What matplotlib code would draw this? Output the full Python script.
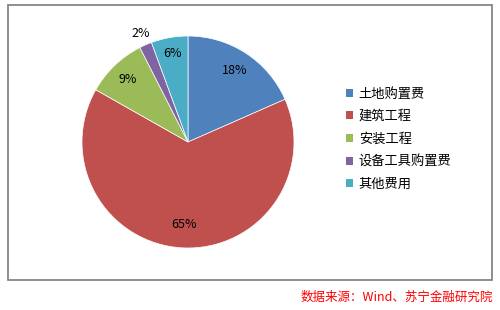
import numpy as np
import matplotlib
matplotlib.use("Agg")
import matplotlib.pyplot as plt
from matplotlib.patches import Rectangle

plt.rcParams['font.family'] = ['Noto Sans CJK SC', 'DejaVu Sans']

# cost structure shares (%)
categories = ['土地购置费', '建筑工程', '安装工程', '设备工具购置费', '其他费用']
shares = [18.4, 64.8, 9.3, 1.9, 5.6]
colors = ['#4F81BD', '#C0504D', '#9BBB59', '#8064A2', '#4BACC6']
label_dist = [0.81, 0.78, 0.82, 1.12, 0.85]
source = '数据来源：Wind、苏宁金融研究院'

W, H = 500, 310
fig = plt.figure(figsize=(W / 100, H / 100), dpi=100)

# outer frame
fig.patches.append(Rectangle((8 / W, 1 - 280 / H), 484 / W, 275 / H,
                             transform=fig.transFigure, fill=False,
                             edgecolor='#868686', linewidth=1.3))

cx, cy, r = 188, 142, 106
ax = fig.add_axes([(cx - r) / W, 1 - (cy + r) / H, 2 * r / W, 2 * r / H])
wedges, _ = ax.pie(shares, colors=colors, startangle=90, counterclock=False,
                   wedgeprops=dict(edgecolor='white', linewidth=0.5))
ax.set_xlim(-1, 1)
ax.set_ylim(-1, 1)
ax.set_aspect('equal')

for w, v, d in zip(wedges, shares, label_dist):
    mid = np.deg2rad((w.theta1 + w.theta2) / 2)
    ax.text(d * np.cos(mid), d * np.sin(mid), '%.0f%%' % v,
            ha='center', va='center', fontsize=9, color='black')

leg = fig.legend(wedges, categories, loc='upper left',
                 bbox_to_anchor=(339 / W, 1 - 81 / H), frameon=False,
                 fontsize=9.5, handlelength=0.55, handleheight=0.55,
                 handletextpad=0.45, labelspacing=0.72, borderpad=0)
for h in leg.legend_handles:
    h.set_edgecolor('none')

fig.text(493 / W, 1 - 297 / H, source, ha='right', va='center',
         fontsize=9, color='#FF0000', style='italic')

fig.savefig('out.png', dpi=100)
